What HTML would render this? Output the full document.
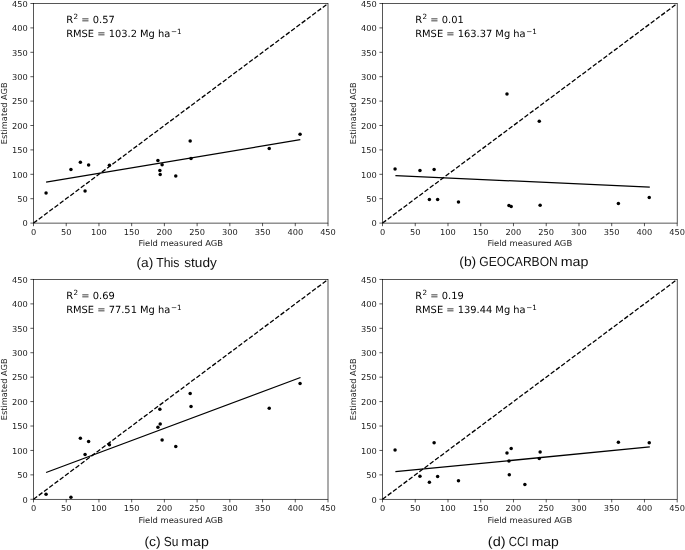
<!DOCTYPE html>
<html lang="en"><head><meta charset="utf-8"><title>AGB comparison</title>
<style>
html,body{margin:0;padding:0;background:#fff;}
svg{display:block;text-rendering:geometricPrecision;}
.t{font-family:"DejaVu Sans","Liberation Sans",sans-serif;font-size:8.25px;fill:#1a1a1a;}
.an{font-family:"DejaVu Sans","Liberation Sans",sans-serif;font-size:9.9px;fill:#000;}
.cap{font-family:"Liberation Sans","DejaVu Sans",sans-serif;font-size:13.1px;fill:#111;}
</style></head>
<body>
<svg width="685" height="550" viewBox="0 0 685 550">
<rect width="685" height="550" fill="#fff"/>
<g>
<line x1="33.5" y1="223.1" x2="328" y2="3.5" stroke="#000" stroke-width="1.3" stroke-dasharray="4.58 1.98"/>
<line x1="46.1" y1="182.05" x2="300.3" y2="139.7" stroke="#000" stroke-width="1.3"/>
<circle cx="46.07" cy="193" r="1.75" fill="#000"/>
<circle cx="70.93" cy="169.4" r="1.75" fill="#000"/>
<circle cx="80.36" cy="162.2" r="1.75" fill="#000"/>
<circle cx="85.07" cy="191" r="1.75" fill="#000"/>
<circle cx="88.6" cy="164.9" r="1.75" fill="#000"/>
<circle cx="109.42" cy="165.2" r="1.75" fill="#000"/>
<circle cx="157.91" cy="160.5" r="1.75" fill="#000"/>
<circle cx="159.87" cy="170.4" r="1.75" fill="#000"/>
<circle cx="160.2" cy="174.4" r="1.75" fill="#000"/>
<circle cx="162.1" cy="164.7" r="1.75" fill="#000"/>
<circle cx="175.78" cy="176.1" r="1.75" fill="#000"/>
<circle cx="190.17" cy="141.1" r="1.75" fill="#000"/>
<circle cx="191.02" cy="158.5" r="1.75" fill="#000"/>
<circle cx="269.23" cy="148.4" r="1.75" fill="#000"/>
<circle cx="300.06" cy="134.25" r="1.75" fill="#000"/>
<rect x="33.5" y="3.5" width="294.5" height="219.6" fill="none" stroke="#000" stroke-width="0.66"/>
<path d="M33.5 223.1v3.1M33.5 223.1h-3.1M66.22 223.1v3.1M33.5 198.7h-3.1M98.94 223.1v3.1M33.5 174.3h-3.1M131.67 223.1v3.1M33.5 149.9h-3.1M164.39 223.1v3.1M33.5 125.5h-3.1M197.11 223.1v3.1M33.5 101.1h-3.1M229.83 223.1v3.1M33.5 76.7h-3.1M262.56 223.1v3.1M33.5 52.3h-3.1M295.28 223.1v3.1M33.5 27.9h-3.1M328 223.1v3.1M33.5 3.5h-3.1" stroke="#000" stroke-width="0.66" fill="none"/>
<text class="t" x="33.5" y="235.12" text-anchor="middle">0</text>
<text class="t" x="66.22" y="235.12" text-anchor="middle">50</text>
<text class="t" x="98.94" y="235.12" text-anchor="middle">100</text>
<text class="t" x="131.67" y="235.12" text-anchor="middle">150</text>
<text class="t" x="164.39" y="235.12" text-anchor="middle">200</text>
<text class="t" x="197.11" y="235.12" text-anchor="middle">250</text>
<text class="t" x="229.83" y="235.12" text-anchor="middle">300</text>
<text class="t" x="262.56" y="235.12" text-anchor="middle">350</text>
<text class="t" x="295.28" y="235.12" text-anchor="middle">400</text>
<text class="t" x="328" y="235.12" text-anchor="middle">450</text>
<text class="t" x="27.73" y="226.3" text-anchor="end">0</text>
<text class="t" x="27.73" y="201.9" text-anchor="end">50</text>
<text class="t" x="27.73" y="177.5" text-anchor="end">100</text>
<text class="t" x="27.73" y="153.1" text-anchor="end">150</text>
<text class="t" x="27.73" y="128.7" text-anchor="end">200</text>
<text class="t" x="27.73" y="104.3" text-anchor="end">250</text>
<text class="t" x="27.73" y="79.9" text-anchor="end">300</text>
<text class="t" x="27.73" y="55.5" text-anchor="end">350</text>
<text class="t" x="27.73" y="31.1" text-anchor="end">400</text>
<text class="t" x="27.73" y="6.7" text-anchor="end">450</text>
<text class="t" x="180.75" y="246.3" text-anchor="middle" textLength="84.6" lengthAdjust="spacingAndGlyphs">Field measured AGB</text>
<text class="t" transform="translate(7.2 113.3) rotate(-90)" text-anchor="middle">Estimated AGB</text>
<text class="an" x="66.22" y="23.05">R<tspan dy="-3.8" dx="0.5" font-size="7.2">2</tspan><tspan dy="3.8"> = 0.57</tspan></text>
<text class="an" x="66.22" y="37.35">RMSE = 103.2 Mg ha<tspan dy="-3.8" dx="0.6" font-size="7.2">−1</tspan></text>
<text class="cap" y="266.8"><tspan x="136.48" textLength="16.78" lengthAdjust="spacingAndGlyphs">(a)</tspan> <tspan x="156.25" textLength="23.23" lengthAdjust="spacingAndGlyphs">This</tspan> <tspan x="184.29" textLength="32.51" lengthAdjust="spacingAndGlyphs">study</tspan></text>
</g>
<g>
<line x1="382.5" y1="223.1" x2="677.2" y2="3.5" stroke="#000" stroke-width="1.3" stroke-dasharray="4.58 1.98"/>
<line x1="395.4" y1="175.6" x2="649.8" y2="187.1" stroke="#000" stroke-width="1.3"/>
<circle cx="395.07" cy="169.1" r="1.75" fill="#000"/>
<circle cx="419.96" cy="170.6" r="1.75" fill="#000"/>
<circle cx="429.39" cy="199.6" r="1.75" fill="#000"/>
<circle cx="434.11" cy="169.6" r="1.75" fill="#000"/>
<circle cx="437.64" cy="199.4" r="1.75" fill="#000"/>
<circle cx="458.47" cy="201.9" r="1.75" fill="#000"/>
<circle cx="506.99" cy="94.1" r="1.75" fill="#000"/>
<circle cx="508.96" cy="205.6" r="1.75" fill="#000"/>
<circle cx="511.19" cy="206.6" r="1.75" fill="#000"/>
<circle cx="539.28" cy="121.2" r="1.75" fill="#000"/>
<circle cx="540.13" cy="205.3" r="1.75" fill="#000"/>
<circle cx="618.39" cy="203.5" r="1.75" fill="#000"/>
<circle cx="649.24" cy="197.5" r="1.75" fill="#000"/>
<rect x="382.5" y="3.5" width="294.7" height="219.6" fill="none" stroke="#000" stroke-width="0.66"/>
<path d="M382.5 223.1v3.1M382.5 223.1h-3.1M415.24 223.1v3.1M382.5 198.7h-3.1M447.99 223.1v3.1M382.5 174.3h-3.1M480.73 223.1v3.1M382.5 149.9h-3.1M513.48 223.1v3.1M382.5 125.5h-3.1M546.22 223.1v3.1M382.5 101.1h-3.1M578.97 223.1v3.1M382.5 76.7h-3.1M611.71 223.1v3.1M382.5 52.3h-3.1M644.46 223.1v3.1M382.5 27.9h-3.1M677.2 223.1v3.1M382.5 3.5h-3.1" stroke="#000" stroke-width="0.66" fill="none"/>
<text class="t" x="382.5" y="235.12" text-anchor="middle">0</text>
<text class="t" x="415.24" y="235.12" text-anchor="middle">50</text>
<text class="t" x="447.99" y="235.12" text-anchor="middle">100</text>
<text class="t" x="480.73" y="235.12" text-anchor="middle">150</text>
<text class="t" x="513.48" y="235.12" text-anchor="middle">200</text>
<text class="t" x="546.22" y="235.12" text-anchor="middle">250</text>
<text class="t" x="578.97" y="235.12" text-anchor="middle">300</text>
<text class="t" x="611.71" y="235.12" text-anchor="middle">350</text>
<text class="t" x="644.46" y="235.12" text-anchor="middle">400</text>
<text class="t" x="677.2" y="235.12" text-anchor="middle">450</text>
<text class="t" x="376.73" y="226.3" text-anchor="end">0</text>
<text class="t" x="376.73" y="201.9" text-anchor="end">50</text>
<text class="t" x="376.73" y="177.5" text-anchor="end">100</text>
<text class="t" x="376.73" y="153.1" text-anchor="end">150</text>
<text class="t" x="376.73" y="128.7" text-anchor="end">200</text>
<text class="t" x="376.73" y="104.3" text-anchor="end">250</text>
<text class="t" x="376.73" y="79.9" text-anchor="end">300</text>
<text class="t" x="376.73" y="55.5" text-anchor="end">350</text>
<text class="t" x="376.73" y="31.1" text-anchor="end">400</text>
<text class="t" x="376.73" y="6.7" text-anchor="end">450</text>
<text class="t" x="529.85" y="246.3" text-anchor="middle" textLength="84.6" lengthAdjust="spacingAndGlyphs">Field measured AGB</text>
<text class="t" transform="translate(356.2 113.3) rotate(-90)" text-anchor="middle">Estimated AGB</text>
<text class="an" x="415.24" y="23.05">R<tspan dy="-3.8" dx="0.5" font-size="7.2">2</tspan><tspan dy="3.8"> = 0.01</tspan></text>
<text class="an" x="415.24" y="37.35">RMSE = 163.37 Mg ha<tspan dy="-3.8" dx="0.6" font-size="7.2">−1</tspan></text>
<text class="cap" y="266.1"><tspan x="459.27" textLength="17" lengthAdjust="spacingAndGlyphs">(b)</tspan> <tspan x="479.3" textLength="78.48" lengthAdjust="spacingAndGlyphs">GEOCARBON</tspan> <tspan x="560.7" textLength="27.74" lengthAdjust="spacingAndGlyphs">map</tspan></text>
</g>
<g>
<line x1="33.5" y1="499.3" x2="328" y2="279.45" stroke="#000" stroke-width="1.3" stroke-dasharray="4.58 1.98"/>
<line x1="46.1" y1="472.5" x2="300.5" y2="377.5" stroke="#000" stroke-width="1.3"/>
<circle cx="46.07" cy="494.35" r="1.75" fill="#000"/>
<circle cx="70.93" cy="497.3" r="1.75" fill="#000"/>
<circle cx="80.36" cy="438.25" r="1.75" fill="#000"/>
<circle cx="85.07" cy="454.6" r="1.75" fill="#000"/>
<circle cx="88.6" cy="441.5" r="1.75" fill="#000"/>
<circle cx="109.42" cy="444.7" r="1.75" fill="#000"/>
<circle cx="157.91" cy="427.3" r="1.75" fill="#000"/>
<circle cx="159.87" cy="409.2" r="1.75" fill="#000"/>
<circle cx="160.2" cy="424.1" r="1.75" fill="#000"/>
<circle cx="162.1" cy="440" r="1.75" fill="#000"/>
<circle cx="175.78" cy="446.4" r="1.75" fill="#000"/>
<circle cx="190.17" cy="393.6" r="1.75" fill="#000"/>
<circle cx="191.02" cy="406.5" r="1.75" fill="#000"/>
<circle cx="269.23" cy="408.25" r="1.75" fill="#000"/>
<circle cx="300.06" cy="383.4" r="1.75" fill="#000"/>
<rect x="33.5" y="279.45" width="294.5" height="219.85" fill="none" stroke="#000" stroke-width="0.66"/>
<path d="M33.5 499.3v3.1M33.5 499.3h-3.1M66.22 499.3v3.1M33.5 474.87h-3.1M98.94 499.3v3.1M33.5 450.44h-3.1M131.67 499.3v3.1M33.5 426.02h-3.1M164.39 499.3v3.1M33.5 401.59h-3.1M197.11 499.3v3.1M33.5 377.16h-3.1M229.83 499.3v3.1M33.5 352.73h-3.1M262.56 499.3v3.1M33.5 328.31h-3.1M295.28 499.3v3.1M33.5 303.88h-3.1M328 499.3v3.1M33.5 279.45h-3.1" stroke="#000" stroke-width="0.66" fill="none"/>
<text class="t" x="33.5" y="511.32" text-anchor="middle">0</text>
<text class="t" x="66.22" y="511.32" text-anchor="middle">50</text>
<text class="t" x="98.94" y="511.32" text-anchor="middle">100</text>
<text class="t" x="131.67" y="511.32" text-anchor="middle">150</text>
<text class="t" x="164.39" y="511.32" text-anchor="middle">200</text>
<text class="t" x="197.11" y="511.32" text-anchor="middle">250</text>
<text class="t" x="229.83" y="511.32" text-anchor="middle">300</text>
<text class="t" x="262.56" y="511.32" text-anchor="middle">350</text>
<text class="t" x="295.28" y="511.32" text-anchor="middle">400</text>
<text class="t" x="328" y="511.32" text-anchor="middle">450</text>
<text class="t" x="27.73" y="502.5" text-anchor="end">0</text>
<text class="t" x="27.73" y="478.07" text-anchor="end">50</text>
<text class="t" x="27.73" y="453.64" text-anchor="end">100</text>
<text class="t" x="27.73" y="429.22" text-anchor="end">150</text>
<text class="t" x="27.73" y="404.79" text-anchor="end">200</text>
<text class="t" x="27.73" y="380.36" text-anchor="end">250</text>
<text class="t" x="27.73" y="355.93" text-anchor="end">300</text>
<text class="t" x="27.73" y="331.51" text-anchor="end">350</text>
<text class="t" x="27.73" y="307.08" text-anchor="end">400</text>
<text class="t" x="27.73" y="282.65" text-anchor="end">450</text>
<text class="t" x="180.75" y="522.5" text-anchor="middle" textLength="84.6" lengthAdjust="spacingAndGlyphs">Field measured AGB</text>
<text class="t" transform="translate(7.2 389.38) rotate(-90)" text-anchor="middle">Estimated AGB</text>
<text class="an" x="66.22" y="299">R<tspan dy="-3.8" dx="0.5" font-size="7.2">2</tspan><tspan dy="3.8"> = 0.69</tspan></text>
<text class="an" x="66.22" y="313.3">RMSE = 77.51 Mg ha<tspan dy="-3.8" dx="0.6" font-size="7.2">−1</tspan></text>
<text class="cap" y="546.2"><tspan x="144.46" textLength="16.26" lengthAdjust="spacingAndGlyphs">(c)</tspan> <tspan x="163.7" textLength="14.66" lengthAdjust="spacingAndGlyphs">Su</tspan> <tspan x="181.31" textLength="27.53" lengthAdjust="spacingAndGlyphs">map</tspan></text>
</g>
<g>
<line x1="382.5" y1="499.3" x2="677.2" y2="279.45" stroke="#000" stroke-width="1.3" stroke-dasharray="4.58 1.98"/>
<line x1="395.4" y1="471.7" x2="649.8" y2="446.9" stroke="#000" stroke-width="1.3"/>
<circle cx="395.07" cy="449.9" r="1.75" fill="#000"/>
<circle cx="419.96" cy="476.2" r="1.75" fill="#000"/>
<circle cx="429.39" cy="482.15" r="1.75" fill="#000"/>
<circle cx="434.11" cy="442.7" r="1.75" fill="#000"/>
<circle cx="437.64" cy="476.4" r="1.75" fill="#000"/>
<circle cx="458.47" cy="480.7" r="1.75" fill="#000"/>
<circle cx="506.99" cy="452.9" r="1.75" fill="#000"/>
<circle cx="508.96" cy="461.1" r="1.75" fill="#000"/>
<circle cx="509.29" cy="474.7" r="1.75" fill="#000"/>
<circle cx="511.19" cy="448.4" r="1.75" fill="#000"/>
<circle cx="524.87" cy="484.4" r="1.75" fill="#000"/>
<circle cx="539.28" cy="458.6" r="1.75" fill="#000"/>
<circle cx="540.13" cy="452.1" r="1.75" fill="#000"/>
<circle cx="618.39" cy="442.2" r="1.75" fill="#000"/>
<circle cx="649.24" cy="442.7" r="1.75" fill="#000"/>
<rect x="382.5" y="279.45" width="294.7" height="219.85" fill="none" stroke="#000" stroke-width="0.66"/>
<path d="M382.5 499.3v3.1M382.5 499.3h-3.1M415.24 499.3v3.1M382.5 474.87h-3.1M447.99 499.3v3.1M382.5 450.44h-3.1M480.73 499.3v3.1M382.5 426.02h-3.1M513.48 499.3v3.1M382.5 401.59h-3.1M546.22 499.3v3.1M382.5 377.16h-3.1M578.97 499.3v3.1M382.5 352.73h-3.1M611.71 499.3v3.1M382.5 328.31h-3.1M644.46 499.3v3.1M382.5 303.88h-3.1M677.2 499.3v3.1M382.5 279.45h-3.1" stroke="#000" stroke-width="0.66" fill="none"/>
<text class="t" x="382.5" y="511.32" text-anchor="middle">0</text>
<text class="t" x="415.24" y="511.32" text-anchor="middle">50</text>
<text class="t" x="447.99" y="511.32" text-anchor="middle">100</text>
<text class="t" x="480.73" y="511.32" text-anchor="middle">150</text>
<text class="t" x="513.48" y="511.32" text-anchor="middle">200</text>
<text class="t" x="546.22" y="511.32" text-anchor="middle">250</text>
<text class="t" x="578.97" y="511.32" text-anchor="middle">300</text>
<text class="t" x="611.71" y="511.32" text-anchor="middle">350</text>
<text class="t" x="644.46" y="511.32" text-anchor="middle">400</text>
<text class="t" x="677.2" y="511.32" text-anchor="middle">450</text>
<text class="t" x="376.73" y="502.5" text-anchor="end">0</text>
<text class="t" x="376.73" y="478.07" text-anchor="end">50</text>
<text class="t" x="376.73" y="453.64" text-anchor="end">100</text>
<text class="t" x="376.73" y="429.22" text-anchor="end">150</text>
<text class="t" x="376.73" y="404.79" text-anchor="end">200</text>
<text class="t" x="376.73" y="380.36" text-anchor="end">250</text>
<text class="t" x="376.73" y="355.93" text-anchor="end">300</text>
<text class="t" x="376.73" y="331.51" text-anchor="end">350</text>
<text class="t" x="376.73" y="307.08" text-anchor="end">400</text>
<text class="t" x="376.73" y="282.65" text-anchor="end">450</text>
<text class="t" x="529.85" y="522.5" text-anchor="middle" textLength="84.6" lengthAdjust="spacingAndGlyphs">Field measured AGB</text>
<text class="t" transform="translate(356.2 389.38) rotate(-90)" text-anchor="middle">Estimated AGB</text>
<text class="an" x="415.24" y="299">R<tspan dy="-3.8" dx="0.5" font-size="7.2">2</tspan><tspan dy="3.8"> = 0.19</tspan></text>
<text class="an" x="415.24" y="313.3">RMSE = 139.44 Mg ha<tspan dy="-3.8" dx="0.6" font-size="7.2">−1</tspan></text>
<text class="cap" y="545.9"><tspan x="487.83" textLength="17.78" lengthAdjust="spacingAndGlyphs">(d)</tspan> <tspan x="508.63" textLength="19.73" lengthAdjust="spacingAndGlyphs">CCI</tspan> <tspan x="531.72" textLength="27.1" lengthAdjust="spacingAndGlyphs">map</tspan></text>
</g>
</svg>
</body></html>
